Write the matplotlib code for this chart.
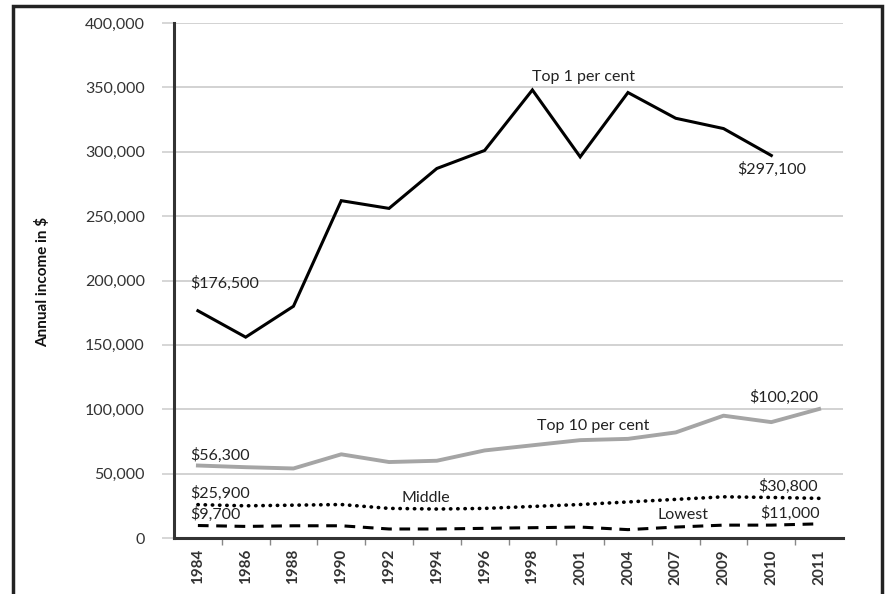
import matplotlib
matplotlib.use('Agg')
import matplotlib.pyplot as plt
from matplotlib.patches import Rectangle
from matplotlib.ticker import FuncFormatter, MultipleLocator
import numpy as np

plt.rcParams['font.family'] = ['Lato', 'DejaVu Sans']

# Data
years = ['1984', '1986', '1988', '1990', '1992', '1994', '1996', '1998',
         '2001', '2004', '2007', '2009', '2010', '2011']
top1 = [176500, 156000, 180000, 262000, 256000, 287000, 301000, 348000,
        296000, 346000, 326000, 318000, 297100]  # no 2011 value
top10 = [56300, 55000, 54000, 65000, 59000, 60000, 68000, 72000,
         76000, 77000, 82000, 95000, 90000, 100200]
middle = [25900, 25000, 25500, 26000, 23000, 22500, 23000, 24500,
          26000, 28000, 30000, 32000, 31500, 30800]
lowest = [9700, 9000, 9500, 9500, 7000, 7000, 7500, 8000,
          8500, 6500, 8500, 10000, 10000, 11000]

x = np.arange(len(years))

fig = plt.figure(figsize=(8.93, 5.94), dpi=100)
ax = fig.add_axes([174 / 893, 1 - 538 / 594, 669 / 893, 515 / 594])

ax.plot(x[:len(top1)], top1, color='black', lw=2.2, solid_joinstyle='miter', zorder=4)
ax.plot(x, top10, color='#a5a5a5', lw=2.8, zorder=3)
ax.plot(x, middle, color='black', lw=2.6, linestyle=(0, (0.1, 1.9)),
        dash_capstyle='round', zorder=3)
ax.plot(x, lowest, color='black', lw=2.2, linestyle=(0, (3.5, 2.5)), zorder=3)

ax.set_xlim(-0.5, len(years) - 0.5)
ax.set_ylim(0, 400000)
ax.yaxis.set_major_locator(MultipleLocator(50000))
ax.yaxis.set_major_formatter(FuncFormatter(lambda v, p: f'{int(v):,}'))
ax.grid(axis='y', color='#cfcfcf', lw=1.3, zorder=0)

ax.set_xticks(x)
ax.set_xticklabels(years, rotation=90, fontsize=11, color='#333333', fontweight='bold')
ax.set_xticks(np.arange(len(years) - 1) + 0.5, minor=True)
ax.tick_params(axis='x', which='major', length=0, pad=8)
ax.tick_params(axis='x', which='minor', length=5, width=1, color='#888888')
ax.tick_params(axis='y', length=9, width=1.2, color='#cfcfcf', pad=12,
               labelsize=11.5, labelcolor='#333333')

for s in ['top', 'right']:
    ax.spines[s].set_visible(False)
ax.spines['left'].set_linewidth(2.2)
ax.spines['bottom'].set_linewidth(2.2)
ax.spines['left'].set_color('#333333')
ax.spines['bottom'].set_color('#333333')

txt = dict(fontsize=11.5, color='#222222', va='center')
ax.text(-0.15, 198000, '$176,500', ha='left', **txt)
ax.text(8.07, 358000, 'Top 1 per cent', ha='center', **txt)
ax.text(12.0, 286000, '$297,100', ha='center', **txt)
ax.text(12.26, 109000, '$100,200', ha='center', **txt)
ax.text(8.28, 87000, 'Top 10 per cent', ha='center', **txt)
ax.text(-0.15, 64000, '$56,300', ha='left', **txt)
ax.text(-0.15, 35000, '$25,900', ha='left', **txt)
ax.text(4.77, 31000, 'Middle', ha='center', **txt)
ax.text(-0.15, 18000, '$9,700', ha='left', **txt)
ax.text(10.15, 18000, 'Lowest', ha='center', **txt)
ax.text(12.34, 40500, '$30,800', ha='center', **txt)
ax.text(12.4, 19000, '$11,000', ha='center', **txt)

fig.text(43 / 893, 1 - 282 / 594, 'Annual income in $', rotation=90,
         ha='center', va='center', fontsize=11, fontweight='bold', color='#111111')

# outer frame (open at the bottom)
frame = Rectangle((13 / 893, -0.02), (882 - 13) / 893, 1.02 - 6 / 594,
                  transform=fig.transFigure, fill=False, lw=2.5, edgecolor='#222222')
fig.patches.append(frame)

fig.savefig('out.png', dpi=100)
